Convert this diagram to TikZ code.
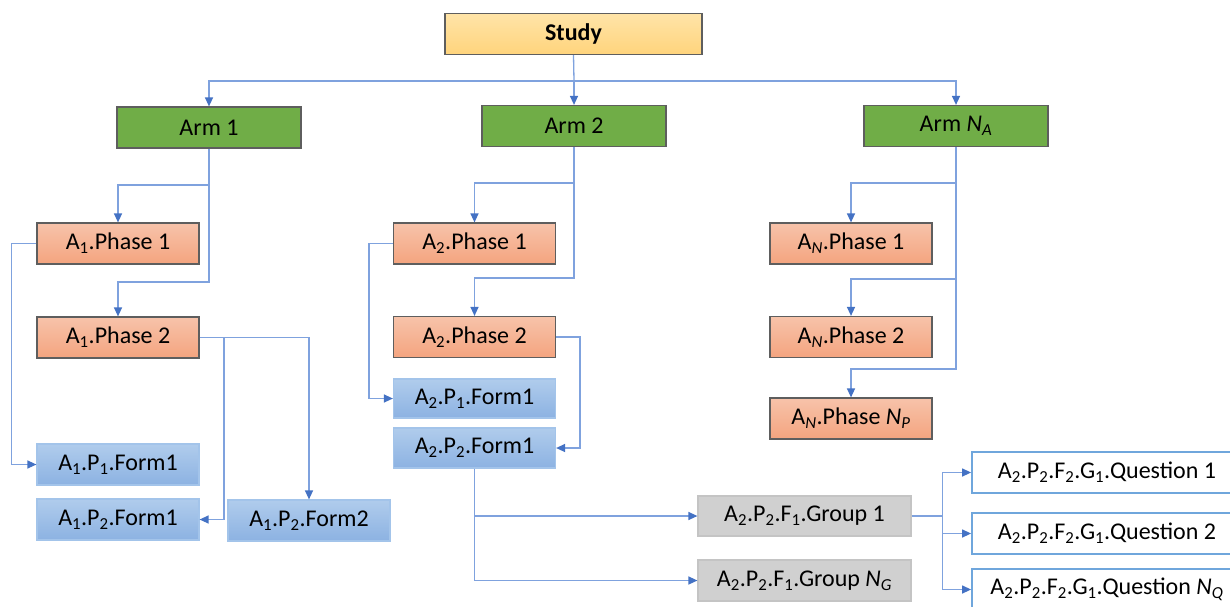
\documentclass[tikz,border=0pt]{standalone}
\usepackage{fontspec}
\setmainfont{Carlito}
\usetikzlibrary{arrows.meta}
\definecolor{lineblue}{HTML}{7FA2DE}
\definecolor{tipblue}{HTML}{4472C4}
\definecolor{darkborder}{HTML}{5E5E5E}
\definecolor{armgreen}{HTML}{70AD47}
\definecolor{studytop}{HTML}{FFE4A8}
\definecolor{studybot}{HTML}{FFD47C}
\definecolor{phasetop}{HTML}{F7C3AA}
\definecolor{phasebot}{HTML}{F4A47F}
\definecolor{formtop}{HTML}{B0CCEC}
\definecolor{formbot}{HTML}{8CB2E2}
\definecolor{formborder}{HTML}{A3C4EA}
\definecolor{groupfill}{HTML}{D0D0D0}
\definecolor{groupborder}{HTML}{C4C4C4}
\definecolor{qborder}{HTML}{6FA6DC}
\newcommand{\tsb}[1]{\textsubscript{#1}}
\newcommand{\itn}[1]{\textit{N}\textsubscript{\textit{#1}}}
\tikzset{
  boxbase/.style={rectangle, inner sep=0pt, minimum height=41pt, line width=1.2pt,
    font=\fontsize{24}{28}\selectfont},
  studybox/.style={boxbase, draw=darkborder, top color=studytop, bottom color=studybot,
    minimum width=257pt, font=\fontsize{24}{28}\selectfont\bfseries},
  armbox/.style={boxbase, draw=darkborder, fill=armgreen, minimum width=184pt},
  phasebox/.style={boxbase, draw=darkborder, top color=phasetop, bottom color=phasebot, minimum width=162pt},
  formbox/.style={boxbase, draw=formborder, top color=formtop, bottom color=formbot, minimum width=162pt},
  groupbox/.style={boxbase, draw=groupborder, fill=groupfill, minimum width=213pt},
  qbox/.style={boxbase, draw=qborder, fill=white, line width=1.8pt, minimum width=270pt},
  conn/.style={draw=lineblue, line width=1.3pt},
  arr/.style={conn, -{Triangle[length=9pt,width=8pt,color=tipblue]}}
}
\begin{document}
\begin{tikzpicture}[x=1pt,y=-1pt]
\useasboundingbox (0,0) rectangle (1230,606);
\clip (0,0) rectangle (1230,606);
\fill[white] (0,0) rectangle (1230,606);
% nodes
\node[studybox] (study) at (573.5,34) {Study};
\node[armbox] (arm1) at (209,127.5) {Arm 1};
\node[armbox] (arm2) at (574,126) {Arm 2};
\node[armbox] (armN) at (956,126) {Arm \itn{A}};
\node[phasebox] (a1p1) at (118,243.5) {A\tsb{1}.Phase 1};
\node[phasebox] (a1p2) at (118,337.5) {A\tsb{1}.Phase 2};
\node[formbox] (a1f11) at (118,464.5) {A\tsb{1}.P\tsb{1}.Form1};
\node[formbox] (a1f21) at (118,519.5) {A\tsb{1}.P\tsb{2}.Form1};
\node[formbox] (a1f22) at (309,520.5) {A\tsb{1}.P\tsb{2}.Form2};
\node[phasebox] (a2p1) at (474.5,243.5) {A\tsb{2}.Phase 1};
\node[phasebox] (a2p2) at (474.5,337) {A\tsb{2}.Phase 2};
\node[formbox, minimum height=39pt] (a2f11) at (474.5,398.5) {A\tsb{2}.P\tsb{1}.Form1};
\node[formbox, minimum height=40pt] (a2f21) at (474.5,448) {A\tsb{2}.P\tsb{2}.Form1};
\node[phasebox] (anp1) at (851,243.5) {A\tsb{\textit{N}}.Phase 1};
\node[phasebox] (anp2) at (851,337) {A\tsb{\textit{N}}.Phase 2};
\node[phasebox] (anpn) at (851,418.5) {A\tsb{\textit{N}}.Phase \itn{P}};
\node[groupbox, minimum height=40pt] (g1) at (804.5,516) {A\tsb{2}.P\tsb{2}.F\tsb{1}.Group 1};
\node[groupbox] (gn) at (804.5,580.5) {A\tsb{2}.P\tsb{2}.F\tsb{1}.Group \itn{G}};
\node[qbox] (q1) at (1107,472.5) {A\tsb{2}.P\tsb{2}.F\tsb{2}.G\tsb{1}.Question 1};
\node[qbox] (q2) at (1107,533.5) {A\tsb{2}.P\tsb{2}.F\tsb{2}.G\tsb{1}.Question 2};
\node[qbox] (qn) at (1107,589.5) {A\tsb{2}.P\tsb{2}.F\tsb{2}.G\tsb{1}.Question \itn{Q}};
% study to arms
\coordinate (hub) at (574,81);
\draw[conn] (study.south) -- (hub);
\draw[arr] (hub) -| (arm1.north);
\draw[arr] (hub) -- (arm2.north);
\draw[arr] (hub) -| (armN.north);
% arm 1
\draw[arr] (arm1.south) -- (arm1.south |- 0,282) -| (a1p2.north);
\draw[arr] (arm1.south |- 0,185) -| (a1p1.north);
\draw[arr] (a1p1.west) -- ++(-25,0) |- (a1f11.west);
\draw[arr] (a1p2.east) -| (a1f22.north);
\draw[arr] (a1p2.east -| 224,0) |- (a1f21.east);
% arm 2
\draw[arr] (arm2.south) -- (arm2.south |- 0,278) -| (a2p2.north);
\draw[arr] (arm2.south |- 0,183) -| (a2p1.north);
\draw[arr] (a2p1.west) -- ++(-24,0) |- (a2f11.west);
\draw[arr] (a2p2.east) -- ++(24,0) |- (a2f21.east);
\draw[arr] (a2f21.south) |- (gn.west);
\draw[arr] (a2f21.south |- g1.west) -- (g1.west);
% group to questions
\draw[conn] (g1.east) -- ++(31,0) coordinate (gq);
\draw[arr] (gq) |- (q1.west);
\draw[arr] (gq) |- (q2.west);
\draw[arr] (gq) |- (qn.west);
% arm N
\draw[arr] (armN.south) -- (armN.south |- 0,369) -| (anpn.north);
\draw[arr] (armN.south |- 0,183) -| (anp1.north);
\draw[arr] (armN.south |- 0,279) -| (anp2.north);
\end{tikzpicture}
\end{document}
